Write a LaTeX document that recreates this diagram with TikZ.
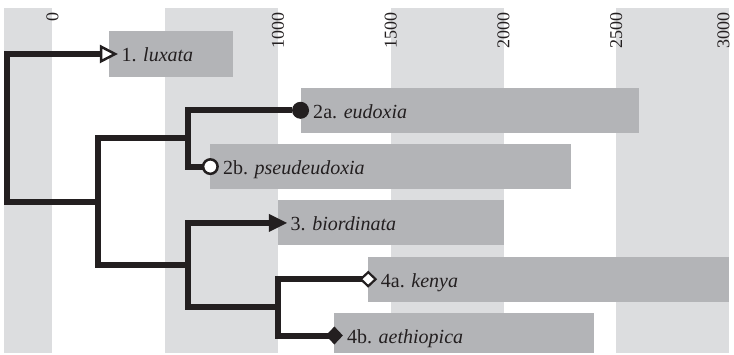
\documentclass[tikz,border=0pt]{standalone}
\usepackage{fontspec}
\setmainfont{Liberation Serif}
\usetikzlibrary{arrows.meta}
\definecolor{bandgray}{HTML}{DCDDDF}
\definecolor{bargray}{HTML}{B3B4B7}
\definecolor{inkblack}{HTML}{231F20}
\tikzset{
  band/.style={fill=bandgray},
  bar/.style={fill=bargray},
  branch/.style={draw=inkblack,line width=6pt},
  taxon/.style={anchor=west,inner xsep=12.5pt,inner ysep=0pt,text height=17pt,text depth=1pt,
    font=\fontsize{20}{22}\selectfont,text=inkblack},
  yearlabel/.style={rotate=90,anchor=east,inner sep=0pt,font=\fontsize{18}{20}\selectfont,text=inkblack}
}

\begin{document}
\begin{tikzpicture}[x=0.2255pt,y=-56.3pt]
	\useasboundingbox (-232.8,-0.959) rectangle (3022.2,5.329);
	% time bands
	\fill[band] (-215,-0.817) rectangle (0,5.311);
	\fill[band] (500,-0.817) rectangle (1000,5.311);
	\fill[band] (1500,-0.817) rectangle (2000,5.311);
	\fill[band] (2500,-0.817) rectangle (3000,5.311);
	\foreach \yr in {0,1000,1500,2000,2500}
		\node[yearlabel] (yr\yr) at (\yr,-0.746) {\yr};
	\node[yearlabel] (yr3000) at (2975,-0.746) {3000};
	
	% ranges
	\fill[bar] (250,-0.4) rectangle (800,0.4);
	\fill[bar] (1100,0.6) rectangle (2600,1.4);
	\fill[bar] (700,1.6) rectangle (2300,2.4);
	\fill[bar] (1000,2.6) rectangle (2000,3.4);
	\fill[bar] (1400,3.6) rectangle (3000,4.4);
	\fill[bar] (1250,4.6) rectangle (2400,5.311);
	
	\node[taxon] (lux) at (250,0) {1. \textit{luxata}};
	\node[taxon] (eud) at (1100,1) {2a. \textit{eudoxia}};
	\node[taxon] (pse) at (700,2) {2b. \textit{pseudeudoxia}};
	\node[taxon] (bio) at (1000,3) {3. \textit{biordinata}};
	\node[taxon] (ken) at (1400,4) {4a. \textit{kenya}};
	\node[taxon] (aet) at (1250,5) {4b. \textit{aethiopica}};
	
	% tree
	\coordinate (root) at (-200,2.625);
	\coordinate (cA) at (200,2.625);
	\coordinate (cB) at (600,1.5);
	\coordinate (cC) at (600,3.75);
	\coordinate (cD) at (1000,4.5);
	\draw[branch,-{Triangle[length=18pt,width=18pt,line width=2.5pt,fill=white]},shorten >=-9pt] (cA) -- (root) |- (lux.west);
	\draw[branch] (cB) -| (cA) |- (cC);
	\draw[branch,-{Circle[length=17pt,line width=0pt]},shorten >=-8.5pt] (cB) |- (eud.west);
	\draw[branch,-{Circle[length=17pt,line width=2.5pt,fill=white]},shorten >=-8.5pt] (cB) |- (pse.west);
	\draw[branch,-{Triangle[length=18pt,width=18pt,line width=0pt]},shorten >=-9pt] (cC) |- (bio.west);
	\draw[branch] (cC) |- (cD);
	\draw[branch,-{Diamond[length=18pt,width=17pt,line width=2.2pt,fill=white]},shorten >=-9pt] (cD) |- (ken.west);
	\draw[branch,-{Diamond[length=17pt,width=18pt,line width=0pt]},shorten >=-8.5pt] (cD) |- (aet.west);
\end{tikzpicture}
\end{document}
